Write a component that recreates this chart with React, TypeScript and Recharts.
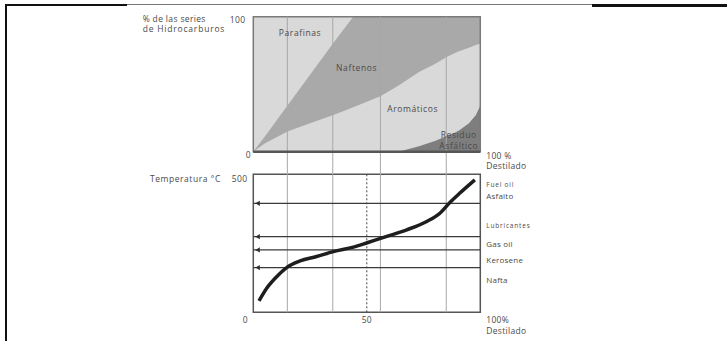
import React from "react";
import {
  ComposedChart,
  Area,
  Line,
  XAxis,
  YAxis,
  ReferenceLine,
  ReferenceArea,
  ReferenceDot,
} from "recharts";

// ---------- DATA ----------
// Upper chart: % distilled (x) and cumulative boundaries of hydrocarbon series (%)
const distTop = [0, 5, 15, 25, 35, 44, 56, 64, 73, 80, 85, 90, 95, 98, 100];
const naftenosTop = [0, 11, 34, 57, 80, 100, 100, 100, 100, 100, 100, 100, 100, 100, 100];
const aromaticosTop = [0, 6, 15, 21, 27, 33, 41, 49, 59, 65, 70, 74, 77, 79, 80];
const residuoTop = [0, 0, 0, 0, 0, 0, 0, 0, 4, 8, 11.5, 15, 21, 27, 34];
const parafinasTop = [100, 100, 100, 100, 100, 100, 100, 100, 100, 100, 100, 100, 100, 100, 100];

// Lower chart: distillation curve (% distilled vs temperature °C)
const distCurve = [2.5, 5.9, 10.3, 14.7, 20.6, 27.9, 35.3, 44.1, 50.5, 58.8, 67.6, 76.4, 82.2, 86.6, 91, 97.6];
const tempCurve = [41, 87, 129, 162, 186, 202, 220, 236, 253, 275, 299, 329, 359, 398, 432, 480];

// Cut temperatures (horizontal lines)
const cutTemps = [395, 274, 226, 162];

// Fractions labels on the right, and their temperature levels
const fractionNames = ["Fuel oil", "Asfalto", "Lubricantes", "Gas oil", "Kerosene", "Nafta"];
const fractionTemps = [461, 421, 313, 247, 189, 117];

// Vertical grid lines (% distilled)
const gridX = [15, 35, 56, 85];

// Region names
const regionNames = ["Parafinas", "Naftenos", "Aromáticos", "Residuo", "Asfáltico"];

// Axis ticks
const xTicks = [0, 50, 100];
const pctTicks = [0, 100];
const tempTicks = [500];

// ---------- LAYOUT ----------
const W = 727;
const H = 341;
const PLOT_LEFT = 253.3;
const PLOT_RIGHT = 480.3;
const PLOT_TOP = 16.7;
const PLOT_BOTTOM = 312.3;
const PCT_ZERO_Y = 151.7;
const TEMP_500_Y = 174.3;
const AX = 1; // axis thickness used by recharts layout

const pctPx = (PCT_ZERO_Y - PLOT_TOP) / 100;
const pctMin = -(PLOT_BOTTOM - PCT_ZERO_Y) / pctPx;
const tempPx = (PLOT_BOTTOM - TEMP_500_Y) / 500;
const tempMax = (PLOT_BOTTOM - PLOT_TOP) / tempPx;

const regionLabelPos = [
  { x: 20.6, y: 87.7, size: 8.5 },
  { x: 45.5, y: 62.2, size: 8.5 },
  { x: 70.2, y: 31.4, size: 8.5 },
  { x: 90.5, y: 12.0, size: 8.5 },
  { x: 90.5, y: 4.3, size: 8.5 },
];

const FONT = "'Open Sans', 'DejaVu Sans', sans-serif";
const TXT = "#4a4a4a";
const FS = 8.5;
const LS = 0.3;

const LIGHT = "#d9d9d9";
const MEDIUM = "#a9a9a9";
const DARK = "#7e7e7e";

const topData = distTop.map((d, i) => ({
  x: d,
  parafinas: parafinasTop[i],
  naftenos: naftenosTop[i],
  aromaticos: aromaticosTop[i],
  residuo: residuoTop[i],
}));

const curveData = distCurve.map((d, i) => ({ x: d, temp: tempCurve[i] }));

const textProps = { fill: TXT, fontFamily: FONT, fontSize: FS, letterSpacing: LS };

// ---------- TICKS ----------
const renderXTick = (props: any) => {
  const v = props.payload.value;
  const x = props.x;
  const y = PLOT_BOTTOM + 11;
  if (v === 0)
    return (
      <text key="x0" x={x - 8} y={y} textAnchor="middle" {...textProps}>
        0
      </text>
    );
  if (v === 100)
    return (
      <text key="x100" x={PLOT_RIGHT + 6} y={y} textAnchor="start" {...textProps}>
        <tspan x={PLOT_RIGHT + 6} y={y}>100%</tspan>
        <tspan x={PLOT_RIGHT + 6} y={y + 10.5}>Destilado</tspan>
      </text>
    );
  return (
    <text key={"x" + v} x={x} y={y} textAnchor="middle" {...textProps}>
      {v}
    </text>
  );
};

const renderPctTick = (props: any) => {
  const v = props.payload.value;
  const y = props.y;
  if (v === 100)
    return (
      <g key="p100">
        <text x={PLOT_LEFT - 8} y={y + 6} textAnchor="end" {...textProps}>
          100
        </text>
        <text x={142.7} y={y + 5} textAnchor="start" {...textProps} letterSpacing={0.35}>
          <tspan x={142.7} y={y + 5}>%  de las series</tspan>
          <tspan x={142.7} y={y + 15.5} letterSpacing={0.8}>de Hidrocarburos</tspan>
        </text>
      </g>
    );
  return (
    <text key="p0" x={PLOT_LEFT - 5} y={y + 6} textAnchor="middle" {...textProps}>
      {v}
    </text>
  );
};

const renderPctRightTick = (props: any) => {
  const y = props.y;
  return (
    <text key="pr" x={PLOT_RIGHT + 6} y={y + 7} textAnchor="start" {...textProps}>
      <tspan x={PLOT_RIGHT + 6} y={y + 7}>100 %</tspan>
      <tspan x={PLOT_RIGHT + 6} y={y + 17.5}>Destilado</tspan>
    </text>
  );
};

const renderTempTick = (props: any) => {
  const y = props.y;
  return (
    <g key="t500">
      <text x={PLOT_LEFT - 6} y={y + 7.5} textAnchor="end" {...textProps}>
        500
      </text>
      <text x={150} y={y + 7.5} textAnchor="start" {...textProps} letterSpacing={0.55}>
        Temperatura °C
      </text>
    </g>
  );
};

const renderFractionTick = (props: any) => {
  const v = props.payload.value;
  const idx = fractionTemps.indexOf(v);
  const name = fractionNames[idx] ?? "";
  const small = name === "Fuel oil" || name === "Lubricantes";
  return (
    <text
      key={"f" + v}
      x={PLOT_RIGHT + 6}
      y={props.y}
      dy="0.35em"
      textAnchor="start"
      fill={TXT}
      fontFamily={FONT}
      fontSize={small ? 6.5 : 8}
      letterSpacing={small ? 0.8 : 0.2}
    >
      {name}
    </text>
  );
};

const ArrowHead = (props: any) => {
  const { cx, cy } = props;
  if (cx == null || cy == null) return null;
  return <polygon points={`${cx - 2.5},${cy} ${cx + 2},${cy - 2.6} ${cx + 2},${cy + 2.6}`} fill="#2e2e2e" />;
};

const makeLabelShape = (text: string, size: number) => (props: any) => {
  const { cx, cy } = props;
  if (cx == null || cy == null) return null;
  return (
    <text x={cx} y={cy} dy="0.35em" textAnchor="middle" fontSize={size} fill={TXT} fontFamily={FONT} letterSpacing={0.6}>
      {text}
    </text>
  );
};

export default function App() {
  return (
    <div style={{ position: "absolute", left: 0, top: 0, width: W, height: H, background: "#fff" }}>
      {/* page frame */}
      <div style={{ position: "absolute", left: 5, top: 4, width: 2.4, height: H - 4, background: "#111" }} />
      <div style={{ position: "absolute", left: 5, top: 4.3, width: 122, height: 2, background: "#111" }} />
      <div style={{ position: "absolute", left: 127, top: 3.5, width: 465, height: 1.3, background: "#777" }} />
      <div style={{ position: "absolute", left: 592, top: 3.5, width: 135, height: 3, background: "#111" }} />

      <div style={{ position: "absolute", left: 0, top: 0 }}>
        <ComposedChart
          width={W}
          height={H}
          data={topData}
          margin={{
            top: PLOT_TOP,
            bottom: H - PLOT_BOTTOM - AX,
            left: PLOT_LEFT - 2 * AX,
            right: W - PLOT_RIGHT - 2 * AX,
          }}
        >
          <XAxis
            dataKey="x"
            type="number"
            domain={[0, 100]}
            ticks={xTicks}
            allowDataOverflow
            height={AX}
            axisLine={false}
            tickLine={false}
            tick={renderXTick}
            interval={0}
          />
          <YAxis
            yAxisId="pct"
            type="number"
            domain={[pctMin, 100]}
            allowDataOverflow
            ticks={pctTicks}
            width={AX}
            axisLine={false}
            tickLine={false}
            tick={renderPctTick}
            interval={0}
          />
          <YAxis
            yAxisId="pctR"
            orientation="right"
            type="number"
            domain={[pctMin, 100]}
            allowDataOverflow
            ticks={[0]}
            width={AX}
            axisLine={false}
            tickLine={false}
            tick={renderPctRightTick}
            interval={0}
          />
          <YAxis
            yAxisId="temp"
            type="number"
            domain={[0, tempMax]}
            allowDataOverflow
            ticks={tempTicks}
            width={AX}
            axisLine={false}
            tickLine={false}
            tick={renderTempTick}
            interval={0}
          />
          <YAxis
            yAxisId="tempR"
            orientation="right"
            type="number"
            domain={[0, tempMax]}
            allowDataOverflow
            ticks={fractionTemps}
            width={AX}
            axisLine={false}
            tickLine={false}
            tick={renderFractionTick}
            interval={0}
          />

          {/* layered areas */}
          <Area yAxisId="pct" type="linear" dataKey="parafinas" baseValue={0} fill={LIGHT} fillOpacity={1} stroke="none" isAnimationActive={false} />
          <Area yAxisId="pct" type="linear" dataKey="naftenos" baseValue={0} fill={MEDIUM} fillOpacity={1} stroke="none" isAnimationActive={false} />
          <Area yAxisId="pct" type="linear" dataKey="aromaticos" baseValue={0} fill={LIGHT} fillOpacity={1} stroke="none" isAnimationActive={false} />
          <Area yAxisId="pct" type="linear" dataKey="residuo" baseValue={0} fill={DARK} fillOpacity={1} stroke="none" isAnimationActive={false} />

          {/* vertical grid lines across both panels */}
          {gridX.map((g) => (
            <ReferenceLine key={"g" + g} yAxisId="pct" x={g} stroke="#a8a8a8" strokeWidth={1} />
          ))}

          {/* upper panel frame */}
          <ReferenceArea yAxisId="pct" x1={0} x2={100} y1={0} y2={100} fill="none" stroke="#7a7a7a" strokeWidth={1.5} />
          <ReferenceLine yAxisId="pct" y={0} stroke="#555" strokeWidth={2.5} />

          {/* lower panel frame */}
          <ReferenceArea yAxisId="temp" x1={0} x2={100} y1={0} y2={500} fill="none" stroke="#555" strokeWidth={1.5} />

          {/* cut lines */}
          {cutTemps.map((t) => (
            <ReferenceLine key={"c" + t} yAxisId="temp" y={t} stroke="#3a3a3a" strokeWidth={1.2} />
          ))}
          {cutTemps.map((t) => (
            <ReferenceDot key={"a" + t} yAxisId="temp" x={2} y={t} r={3} shape={<ArrowHead />} />
          ))}

          {/* 50% dashed line */}
          <ReferenceLine
            yAxisId="temp"
            segment={[
              { x: 50, y: 0 },
              { x: 50, y: 500 },
            ]}
            stroke="#444"
            strokeWidth={1}
            strokeDasharray="2 2"
          />

          {/* region labels */}
          {regionNames.map((n, i) => (
            <ReferenceDot
              key={n}
              yAxisId="pct"
              x={regionLabelPos[i].x}
              y={regionLabelPos[i].y}
              r={1}
              shape={makeLabelShape(n, regionLabelPos[i].size)}
            />
          ))}

          <Line
            yAxisId="temp"
            data={curveData}
            dataKey="temp"
            type="monotone"
            stroke="#1e1e1e"
            strokeWidth={3.5}
            dot={false}
            isAnimationActive={false}
          />
        </ComposedChart>
      </div>
    </div>
  );
}
